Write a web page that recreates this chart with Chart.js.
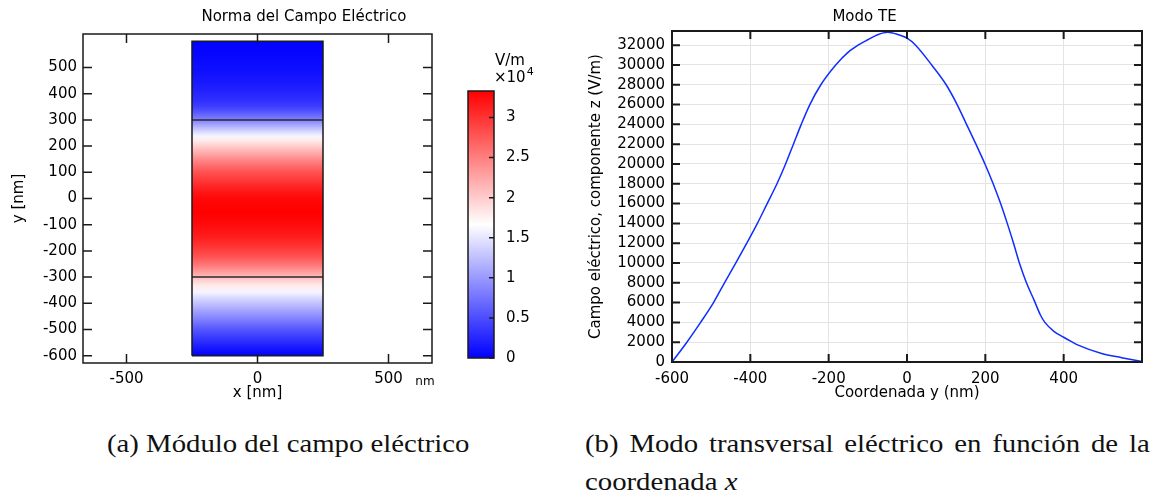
<!DOCTYPE html>
<html lang="es">
<head>
<meta charset="utf-8">
<title>Norma del campo eléctrico y modo TE</title>
<script src="https://cdn.jsdelivr.net/npm/chart.js@4.4.1/dist/chart.umd.min.js"></script>
<style>
  html, body { margin: 0; padding: 0; background: #fff; }
  #page { position: relative; width: 1154px; height: 500px; overflow: hidden; }
  canvas { position: absolute; top: 0; }
  #norma { left: 0; }
  #barra { left: 440px; }
  #modo { left: 585px; }
  .caption {
    position: absolute;
    font-family: "Liberation Serif", serif;
    font-size: 25px;
    line-height: 38px;
    color: #111;
    transform: scaleX(1.15);
    transform-origin: 0 0;
  }
  #capA { left: 107px; top: 425px; white-space: nowrap; }
  #capB { left: 585px; top: 425px; width: 491px; text-align: justify; }
</style>
</head>
<body>
<div id="page">
  <canvas id="norma" width="608" height="410"></canvas>
  <canvas id="barra" width="160" height="410"></canvas>
  <canvas id="modo" width="559" height="410"></canvas>
  <div class="caption" id="capA">(a) Módulo del campo eléctrico</div>
  <div class="caption" id="capB">(b) Modo transversal eléctrico en función de la coordenada <i>x</i></div>
</div>
<script>
// campo eléctrico, componente z (V/m), leído sobre la coordenada y (nm)
const coordY = [-600, -562, -527, -494, -466, -437, -409, -382, -357, -332, -310, -290, -270, -248, -220, -182,
  -150, -125, -100, -75, -50, -25, 0, 22, 63, 100, 128, 152, 176, 199, 220, 239, 256, 272, 287, 305, 325, 340,
  352, 375, 400, 420, 437, 497, 548, 600];
const campoEz = [0, 2000, 4000, 6000, 8000, 10000, 12000, 14000, 16000, 18000, 20000, 22000, 24000, 26000, 28000, 30000,
  31300, 32000, 32550, 33050, 33300, 33100, 32700, 32000, 30000, 28000, 26000, 24000, 22000, 20000, 18000, 16000,
  14000, 12000, 10000, 8000, 6200, 4800, 4000, 3100, 2500, 2050, 1700, 850, 440, 60];

// geometría de la guía (nm)
const guiaX = [-250, 250];
const guiaY = [-600, 600];
const interfaces = [-300, 300];

// marcas de los ejes
const ticksNormaX = [-500, 0, 500];
const ticksNormaY = [-600, -500, -400, -300, -200, -100, 0, 100, 200, 300, 400, 500];
const ticksModoX = [-600, -400, -200, 0, 200, 400];
const ticksModoY = [0, 2000, 4000, 6000, 8000, 10000, 12000, 14000, 16000, 18000, 20000, 22000, 24000, 26000,
  28000, 30000, 32000];
const ticksBarra = [0, 5000, 10000, 15000, 20000, 25000, 30000];

const vmax = Math.max(...campoEz);

Chart.defaults.font.family = '"DejaVu Sans", sans-serif';
Chart.defaults.font.size = 15;
Chart.defaults.color = '#000';

// azul -> blanco -> rojo
function colorMapa(v) {
  const t = Math.min(Math.max(v / vmax, 0), 1);
  if (t < 0.5) {
    const c = Math.round(510 * t);
    return `rgb(${c},${c},255)`;
  }
  const c = Math.round(510 * (1 - t));
  return `rgb(255,${c},${c})`;
}

const fijarTicks = (lista) => (scale) => {
  scale.ticks = lista.map((v) => ({ value: v }));
};

// marco, marcas hacia dentro y textos sueltos (estilo COMSOL)
const marco = {
  id: 'marco',
  afterDraw(chart, args, o) {
    const { ctx, chartArea: a, scales } = chart;
    ctx.save();
    ctx.strokeStyle = o.color;
    ctx.lineWidth = o.width;
    ctx.beginPath();
    if (o.ticksX) {
      scales.x.ticks.forEach((t) => {
        const px = scales.x.getPixelForValue(t.value);
        ctx.moveTo(px, a.bottom);
        ctx.lineTo(px, a.bottom - o.tick);
        ctx.moveTo(px, a.top);
        ctx.lineTo(px, a.top + o.tick);
      });
    }
    scales.y.ticks.forEach((t) => {
      const py = scales.y.getPixelForValue(t.value);
      if (o.ticksLeft) {
        ctx.moveTo(a.left, py);
        ctx.lineTo(a.left + o.tick, py);
      }
      ctx.moveTo(a.right, py);
      ctx.lineTo(a.right - o.tick, py);
    });
    ctx.stroke();
    ctx.strokeRect(a.left, a.top, a.right - a.left, a.bottom - a.top);

    ctx.fillStyle = '#000';
    ctx.textBaseline = 'alphabetic';
    if (o.title) {
      ctx.font = '15px "DejaVu Sans"';
      ctx.textAlign = 'center';
      ctx.fillText(o.title, chart.width / 2, o.titleY);
    }
    (o.labels || []).forEach((l) => {
      const x = a.right + l.dx;
      const y = (l.edge === 'top' ? a.top : a.bottom) + l.dy;
      ctx.font = l.size + 'px "DejaVu Sans"';
      ctx.textAlign = l.align;
      ctx.fillText(l.text, x, y);
      if (l.sup) {
        const w = ctx.measureText(l.text).width;
        ctx.font = Math.round(l.size * 0.7) + 'px "DejaVu Sans"';
        ctx.textAlign = 'left';
        ctx.fillText(l.sup, x + w + 1, y - l.size * 0.45);
      }
    });
    ctx.restore();
  }
};

// ---- (a) norma del campo ----
const contorno = [
  { x: guiaX[0], y: guiaY[0] }, { x: guiaX[1], y: guiaY[0] },
  { x: guiaX[1], y: guiaY[1] }, { x: guiaX[0], y: guiaY[1] },
  { x: guiaX[0], y: guiaY[0] }
];

function gradienteNorma(context) {
  const { ctx, chartArea, scales } = context.chart;
  if (!chartArea) return 'transparent';
  const y0 = scales.y.getPixelForValue(guiaY[0]);
  const y1 = scales.y.getPixelForValue(guiaY[1]);
  const g = ctx.createLinearGradient(0, y0, 0, y1);
  coordY.forEach((y, i) => {
    g.addColorStop((y - guiaY[0]) / (guiaY[1] - guiaY[0]), colorMapa(campoEz[i]));
  });
  return g;
}

new Chart(document.getElementById('norma'), {
  type: 'line',
  data: {
    datasets: [
      { data: contorno, borderColor: '#1a1a1a', borderWidth: 1.5, pointRadius: 0, fill: false },
      ...interfaces.map((yi) => ({
        data: [{ x: guiaX[0], y: yi }, { x: guiaX[1], y: yi }],
        borderColor: '#2a2a2a', borderWidth: 1.5, pointRadius: 0, fill: false
      })),
      {
        data: [{ x: guiaX[0], y: guiaY[1] }, { x: guiaX[1], y: guiaY[1] }],
        borderWidth: 0, pointRadius: 0,
        fill: { value: guiaY[0] },
        backgroundColor: gradienteNorma
      }
    ]
  },
  options: {
    responsive: false,
    animation: false,
    layout: { padding: { left: 0, top: 34, right: 176, bottom: 0 } },
    scales: {
      x: {
        type: 'linear', min: -666, max: 666,
        afterBuildTicks: fijarTicks(ticksNormaX),
        afterFit: (s) => { s.height = 47; },
        grid: { display: false, drawTicks: false },
        border: { display: false },
        ticks: { padding: 7, autoSkip: false, maxRotation: 0, callback: (v) => String(v) },
        title: { display: true, text: 'x [nm]', padding: { top: 0, bottom: 8 } }
      },
      y: {
        type: 'linear', min: -628, max: 628,
        afterBuildTicks: fijarTicks(ticksNormaY),
        afterFit: (s) => { s.width = 83; },
        grid: { display: false, drawTicks: false },
        border: { display: false },
        ticks: { padding: 6, autoSkip: false, callback: (v) => String(v) },
        title: { display: true, text: 'y [nm]', padding: { top: 10, bottom: 0 } }
      }
    },
    plugins: {
      legend: { display: false },
      tooltip: { enabled: false },
      marco: {
        color: '#1a1a1a', width: 1.5, tick: 9, ticksX: true, ticksLeft: true,
        title: 'Norma del Campo Eléctrico', titleY: 21,
        labels: [{ text: 'nm', edge: 'bottom', dx: -7, dy: 22, size: 12, align: 'center' }]
      }
    }
  },
  plugins: [marco]
});

// ---- barra de color ----
function gradienteBarra(context) {
  const { ctx, chartArea, scales } = context.chart;
  if (!chartArea) return 'transparent';
  const g = ctx.createLinearGradient(0, scales.y.getPixelForValue(0), 0, scales.y.getPixelForValue(vmax));
  g.addColorStop(0, colorMapa(0));
  g.addColorStop(0.5, colorMapa(vmax / 2));
  g.addColorStop(1, colorMapa(vmax));
  return g;
}

new Chart(document.getElementById('barra'), {
  type: 'bar',
  data: {
    labels: [''],
    datasets: [{
      data: [[0, vmax]],
      backgroundColor: gradienteBarra,
      borderWidth: 0,
      barPercentage: 1,
      categoryPercentage: 1
    }]
  },
  options: {
    responsive: false,
    animation: false,
    layout: { padding: { left: 28, top: 91, right: 0, bottom: 52 } },
    scales: {
      x: { display: false },
      y: {
        position: 'right', min: 0, max: vmax,
        afterBuildTicks: fijarTicks(ticksBarra),
        afterFit: (s) => { s.width = 106; },
        grid: { display: false, drawTicks: false },
        border: { display: false },
        ticks: { padding: 12, autoSkip: false, callback: (v) => String(v / 1e4) }
      }
    },
    plugins: {
      legend: { display: false },
      tooltip: { enabled: false },
      marco: {
        color: '#1a1a1a', width: 1.5, tick: 5, ticksX: false, ticksLeft: false,
        labels: [
          { text: 'V/m', edge: 'top', dx: 1, dy: -26, size: 15, align: 'left' },
          { text: '×10', edge: 'top', dx: 0, dy: -9, size: 15, align: 'left', sup: '4' }
        ]
      }
    }
  },
  plugins: [marco]
});

// ---- (b) modo TE ----
new Chart(document.getElementById('modo'), {
  type: 'line',
  data: {
    datasets: [{
      data: coordY.map((y, i) => ({ x: y, y: campoEz[i] })),
      borderColor: 'rgb(15, 45, 255)',
      borderWidth: 1.5,
      pointRadius: 0,
      cubicInterpolationMode: 'monotone',
      fill: false
    }]
  },
  options: {
    responsive: false,
    animation: false,
    layout: { padding: { left: 0, top: 31, right: 2, bottom: 0 } },
    scales: {
      x: {
        type: 'linear', min: -600, max: 600,
        afterBuildTicks: fijarTicks(ticksModoX),
        afterFit: (s) => { s.height = 48; },
        grid: { color: '#e4e4e4', drawTicks: false },
        border: { display: false },
        ticks: { padding: 8, autoSkip: false, maxRotation: 0, callback: (v) => String(v) },
        title: { display: true, text: 'Coordenada y (nm)', padding: { top: 0, bottom: 8 } }
      },
      y: {
        type: 'linear', min: 0, max: 33430,
        afterBuildTicks: fijarTicks(ticksModoY),
        afterFit: (s) => { s.width = 87; },
        grid: { color: '#e4e4e4', drawTicks: false },
        border: { display: false },
        ticks: { padding: 7, autoSkip: false, callback: (v) => String(v) },
        title: { display: true, text: 'Campo eléctrico, componente z (V/m)', padding: { top: 2, bottom: 0 } }
      }
    },
    plugins: {
      legend: { display: false },
      tooltip: { enabled: false },
      marco: {
        color: '#1a1a1a', width: 2, tick: 8, ticksX: true, ticksLeft: true,
        title: 'Modo TE', titleY: 21
      }
    }
  },
  plugins: [marco]
});
</script>
</body>
</html>
